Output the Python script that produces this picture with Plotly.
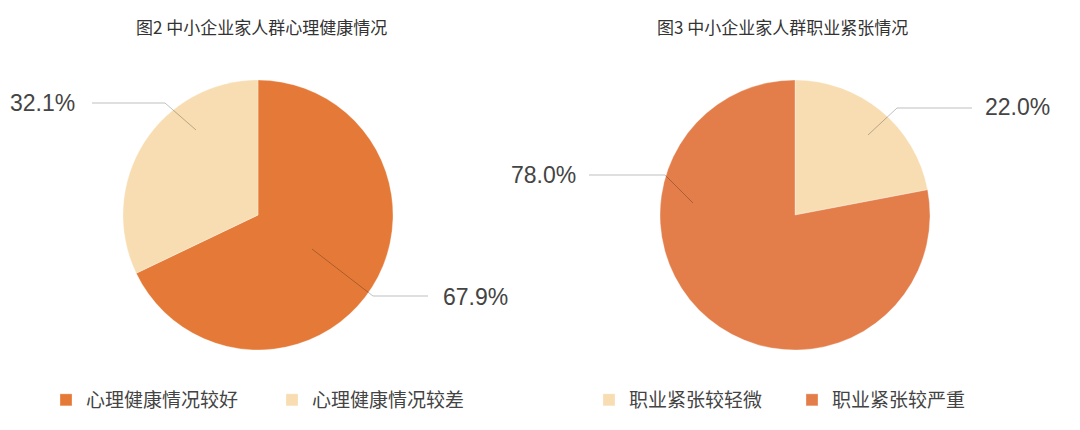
import plotly.graph_objects as go

# page has an 8px body margin, so the figure is a bit smaller and offset
OFF = 8
W, H = 1080 - OFF, 430 - OFF

# data
health_labels = ['心理健康情况较好', '心理健康情况较差']
health_values = [67.9, 32.1]
stress_labels = ['职业紧张较轻微', '职业紧张较严重']
stress_values = [22.0, 78.0]

titles = ['图2 中小企业家人群心理健康情况', '图3 中小企业家人群职业紧张情况']

ORANGE = '#E57A38'
ORANGE2 = '#E37E4B'
LIGHT = '#F7DDB1'
CJK = 'Noto Sans CJK SC, Noto Sans, sans-serif'
NUM = 'Liberation Sans, Arial, sans-serif'


def px(x, y):
    # screen pixel -> paper coords
    return (x - OFF) / W, 1 - (y - OFF) / H


def dom(x0, x1, y0, y1):
    a0, b1 = px(x0, y0)
    a1, b0 = px(x1, y1)
    return dict(x=[a0, a1], y=[b0, b1])


fig = go.Figure()

fig.add_trace(go.Pie(
    labels=health_labels, values=health_values,
    marker=dict(colors=[ORANGE, LIGHT], line=dict(color='rgba(255,255,255,0.5)', width=0.6)),
    sort=False, direction='clockwise', rotation=0,
    textinfo='none', hoverinfo='label+percent',
    domain=dom(123, 393, 80, 350),
    legend='legend',
))

fig.add_trace(go.Pie(
    labels=stress_labels, values=stress_values,
    marker=dict(colors=[LIGHT, ORANGE2], line=dict(color='rgba(255,255,255,0.5)', width=0.6)),
    sort=False, direction='clockwise', rotation=0,
    textinfo='none', hoverinfo='label+percent',
    domain=dom(660, 930, 80, 350),
    legend='legend2',
))

# leader lines (pixel positions: start inside slice, bend, end)
leaders = [
    [(196, 130), (165, 103), (92, 103)],
    [(312, 249), (373, 296), (428, 296)],
    [(868, 135), (897, 108), (972, 108)],
    [(693, 203), (665, 175), (589, 175)],
]
shapes = []
for pts in leaders:
    for (x0, y0), (x1, y1) in zip(pts[:-1], pts[1:]):
        a0, b0 = px(x0, y0)
        a1, b1 = px(x1, y1)
        shapes.append(dict(type='line', xref='paper', yref='paper',
                           x0=a0, y0=b0, x1=a1, y1=b1,
                           line=dict(color='rgba(0,0,0,0.25)', width=1)))

annotations = []
# percentage labels
pct_text = [f'{health_values[1]:.1f}%', f'{health_values[0]:.1f}%',
            f'{stress_values[0]:.1f}%', f'{stress_values[1]:.1f}%']
pct_pos = [(77, 103, 'right'), (441, 297, 'left'), (983, 107, 'left'), (578, 175, 'right')]
for t, (x, y, anc) in zip(pct_text, pct_pos):
    ax, ay = px(x, y)
    annotations.append(dict(text=t, x=ax, y=ay, xref='paper', yref='paper',
                            xanchor=anc, yanchor='middle', showarrow=False,
                            font=dict(family=NUM, size=23, color='#444')))
# titles
for t, cx in zip(titles, [261, 782]):
    ax, ay = px(cx, 27)
    annotations.append(dict(text=t, x=ax, y=ay, xref='paper', yref='paper',
                            xanchor='center', yanchor='middle', showarrow=False,
                            font=dict(family=CJK, size=17, color='#333')))

legend_style = dict(orientation='h', yanchor='middle', xanchor='left',
                    font=dict(family=CJK, size=19, color='#444'),
                    bgcolor='rgba(0,0,0,0)', itemclick=False, itemdoubleclick=False,
                    entrywidthmode='pixels')

lx1, ly = px(46, 400)
lx2, _ = px(589, 400)

fig.update_layout(
    width=W, height=H,
    margin=dict(l=0, r=0, t=0, b=0),
    paper_bgcolor='white',
    plot_bgcolor='white',
    shapes=shapes,
    annotations=annotations,
    legend=dict(x=lx1, y=ly, entrywidth=181, **legend_style),
    legend2=dict(x=lx2, y=ly, entrywidth=158, **legend_style),
)

fig.write_html('out.html')
